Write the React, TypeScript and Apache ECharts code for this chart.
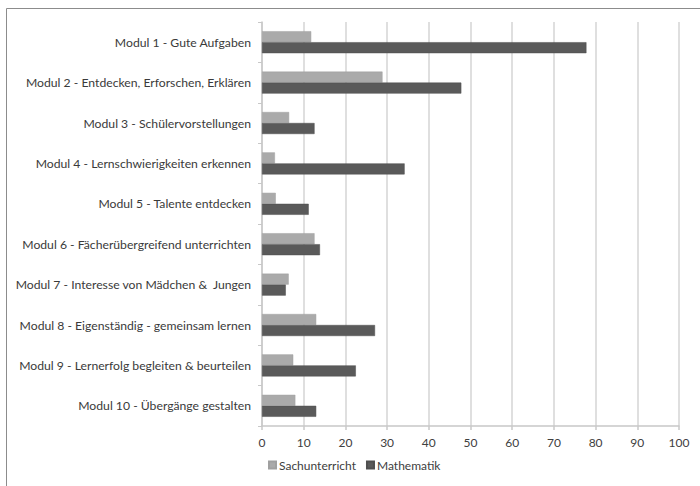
import React, { useEffect, useRef } from "react";
import * as echarts from "echarts";

const categories = [
  "Modul 1 - Gute Aufgaben",
  "Modul 2 - Entdecken, Erforschen, Erklären",
  "Modul 3 - Schülervorstellungen",
  "Modul 4 - Lernschwierigkeiten erkennen",
  "Modul 5 - Talente entdecken",
  "Modul 6 - Fächerübergreifend unterrichten",
  "Modul 7 - Interesse von Mädchen &  Jungen",
  "Modul 8 - Eigenständig - gemeinsam lernen",
  "Modul 9 - Lernerfolg begleiten & beurteilen",
  "Modul 10 - Übergänge gestalten",
];
const sachunterricht = [11.8, 28.9, 6.5, 3.1, 3.3, 12.6, 6.4, 13.0, 7.5, 8.0];
const mathematik = [77.8, 47.8, 12.6, 34.2, 11.2, 13.9, 5.7, 27.1, 22.5, 13.0];
const seriesNames = ["Sachunterricht", "Mathematik"];

const FONT = "Lato, 'Liberation Sans', sans-serif";

export default function App() {
  const ref = useRef<HTMLDivElement>(null);
  useEffect(() => {
    if (!ref.current) return;
    const chart = echarts.init(ref.current, undefined, { renderer: "svg" });
    chart.setOption({
      animation: false,
      backgroundColor: "#ffffff",
      textStyle: { fontFamily: FONT },
      graphic: [
        {
          type: "rect",
          shape: { x: 6.5, y: 8.5, width: 800, height: 600 },
          style: { fill: "none", stroke: "#8c8c8c", lineWidth: 1 },
          silent: true,
          z: -1,
        },
      ],
      grid: { left: 262, right: 21, top: 22, bottom: 60, containLabel: false },
      legend: {
        bottom: 10,
        left: 263,
        itemWidth: 7,
        itemHeight: 7,
        itemGap: 10,
        icon: "rect",
        textStyle: { fontFamily: FONT, fontSize: 12, color: "#404040", padding: [0, 0, 0, -2] },
        data: seriesNames,
      },
      xAxis: {
        type: "value",
        min: 0,
        max: 100,
        interval: 10,
        axisLine: { show: true, lineStyle: { color: "#c8c8c8", width: 1.5 } },
        axisTick: { show: true, length: 4, lineStyle: { color: "#c8c8c8", width: 1.5 } },
        splitLine: { show: true, lineStyle: { color: "#d4d4d4", width: 1.5 } },
        axisLabel: { fontFamily: FONT, fontSize: 12, color: "#404040", margin: 10 },
      },
      yAxis: {
        type: "category",
        inverse: true,
        data: categories,
        axisLine: { show: true, lineStyle: { color: "#c8c8c8", width: 1.5 } },
        axisTick: { show: true, length: 4, lineStyle: { color: "#c8c8c8", width: 1 } },
        axisLabel: { fontFamily: FONT, fontSize: 12.2, color: "#3a3a3a", margin: 11 },
      },
      series: [
        {
          name: seriesNames[0],
          type: "bar",
          data: sachunterricht,
          barWidth: 11,
          barGap: "0%",
          itemStyle: { color: "#aaaaaa", borderColor: "#a0a0a0", borderWidth: 0.5 },
        },
        {
          name: seriesNames[1],
          type: "bar",
          data: mathematik,
          barWidth: 11,
          barGap: "0%",
          itemStyle: { color: "#5a5a5a", borderColor: "#4f4f4f", borderWidth: 0.5 },
        },
      ],
    });
    return () => chart.dispose();
  }, []);
  return (
    <div
      ref={ref}
      style={{ position: "fixed", left: 0, top: 0, width: 700, height: 486 }}
    />
  );
}
